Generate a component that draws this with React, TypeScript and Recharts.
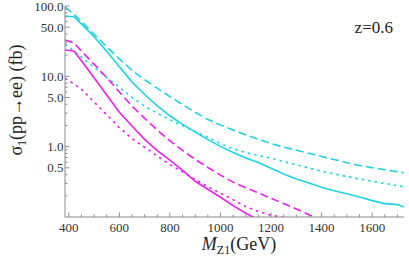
import { LineChart, Line, XAxis, YAxis } from "recharts";

// M_Z1 in GeV
const masses = [385, 420, 450, 500, 550, 600, 650, 700, 750, 800, 850, 900, 950, 1000, 1050, 1100, 1150, 1200, 1250, 1300, 1350, 1400, 1450, 1500, 1550, 1600, 1650, 1700, 1725];

// sigma_1 (fb)
const cyanSolid = [72, 70.5, 55.7, 36.6, 22.7, 13.7, 8.34, 5.52, 3.81, 2.75, 2.07, 1.62, 1.26, 1.01, 0.828, 0.689, 0.594, 0.493, 0.408, 0.347, 0.305, 0.265, 0.236, 0.214, 0.192, 0.171, 0.155, 0.15, 0.139];
const cyanDashed = [97, 76.1, 60.4, 39.6, 26.4, 17.7, 12.2, 8.93, 6.78, 5.16, 3.97, 3.09, 2.44, 2.03, 1.73, 1.47, 1.275, 1.11, 0.986, 0.892, 0.805, 0.726, 0.656, 0.592, 0.54, 0.503, 0.47, 0.438, 0.426];
const cyanDotted = [28.6, 22.9, 18.8, 13.5, 9.7, 7.03, 5.02, 3.76, 2.98, 2.41, 1.99, 1.64, 1.36, 1.11, 0.933, 0.826, 0.752, 0.684, 0.616, 0.555, 0.497, 0.448, 0.409, 0.377, 0.348, 0.323, 0.3, 0.279, 0.269];
const magentaSolid = [23.7, 22.9, 16.6, 9.53, 5.43, 3.08, 1.97, 1.27, 0.877, 0.643, 0.46, 0.322, 0.248, 0.191, 0.145, 0.113, 0.091, 0.076, null, null, null, null, null, null, null, null, null, null, null];
const magentaDashed = [32.8, 29.9, 22.9, 14.9, 9.58, 5.99, 3.78, 2.53, 1.72, 1.21, 0.883, 0.658, 0.506, 0.394, 0.313, 0.261, 0.22, 0.184, 0.155, 0.13, 0.108, 0.089, null, null, null, null, null, null, null];
const magentaDotted = [9.38, 7.8, 6.56, 4.32, 2.84, 1.87, 1.3, 0.981, 0.735, 0.557, 0.438, 0.344, 0.27, 0.218, 0.176, 0.14, 0.12, 0.106, 0.098, 0.088, null, null, null, null, null, null, null, null, null];

const xTicks = [400, 450, 500, 550, 600, 650, 700, 750, 800, 850, 900, 950, 1000, 1050, 1100, 1150, 1200, 1250, 1300, 1350, 1400, 1450, 1500, 1550, 1600, 1650, 1700];
const xLabels = [400, 600, 800, 1000, 1200, 1400, 1600];
const yTicks = [0.2, 0.3, 0.4, 0.5, 0.6, 0.7, 0.8, 0.9, 1, 2, 3, 4, 5, 6, 7, 8, 9, 10, 20, 30, 40, 50, 60, 70, 80, 90, 100];
const yLabels = [0.5, 1, 5, 10, 50, 100];

const rows = masses.map((m, i) => ({
  m,
  cs: cyanSolid[i],
  cd: cyanDashed[i],
  ct: cyanDotted[i],
  ms: magentaSolid[i],
  md: magentaDashed[i],
  mt: magentaDotted[i],
}));

const CYAN = "#1ed4e2";
const MAGENTA = "#f01ef0";
const FRAME = "#8a8a8a";
const FONT = "Liberation Serif, DejaVu Serif, Times New Roman, serif";
const txt = { fontFamily: FONT };

const BottomTick = (props: any) => {
  const { x, y, payload } = props;
  const big = xLabels.includes(payload.value);
  return (
    <g>
      <line x1={x} y1={y} x2={x} y2={y - (big ? 4.5 : 2.5)} stroke={FRAME} />
      {big && (
        <text x={x} y={y + 14.5} textAnchor="middle" fontSize={13} style={txt} fill="#333">
          {payload.value}
        </text>
      )}
    </g>
  );
};

const TopTick = (props: any) => {
  const { x, y, payload } = props;
  const big = xLabels.includes(payload.value);
  return <line x1={x} y1={y} x2={x} y2={y + (big ? 4.5 : 2.5)} stroke={FRAME} />;
};

const LeftTick = (props: any) => {
  const { x, y, payload } = props;
  const big = yLabels.includes(payload.value);
  return (
    <g>
      <line x1={x} y1={y} x2={x + (big ? 4.5 : 2.5)} y2={y} stroke={FRAME} />
      {big && (
        <text x={x - 1.5} y={y + 4.5} textAnchor="end" fontSize={13} style={txt} fill="#333">
          {payload.value.toFixed(1)}
        </text>
      )}
    </g>
  );
};

const RightTick = (props: any) => {
  const { x, y, payload } = props;
  const big = yLabels.includes(payload.value);
  return <line x1={x} y1={y} x2={x - (big ? 4.5 : 2.5)} y2={y} stroke={FRAME} />;
};

export default function App() {
  return (
    <div style={{ position: "absolute", left: 0, top: 0, width: 409, height: 263, background: "#fff" }}>
      <LineChart width={409} height={263} data={rows} margin={{ top: 6, right: 5, bottom: 0, left: 0 }}>
        <XAxis
          dataKey="m"
          type="number"
          domain={[385, 1726]}
          allowDataOverflow
          ticks={xTicks}
          interval={0}
          tick={<BottomTick />}
          tickSize={0}
          tickMargin={0}
          tickLine={false}
          axisLine={{ stroke: FRAME }}
          height={46}
        />
        <XAxis
          xAxisId="top"
          orientation="top"
          dataKey="m"
          type="number"
          domain={[385, 1726]}
          allowDataOverflow
          ticks={xTicks}
          interval={0}
          tick={<TopTick />}
          tickSize={0}
          tickMargin={0}
          tickLine={false}
          axisLine={{ stroke: FRAME }}
          height={0}
        />
        <YAxis
          type="number"
          scale="log"
          domain={[0.1, 100]}
          allowDataOverflow
          ticks={yTicks}
          interval={0}
          tick={<LeftTick />}
          tickSize={0}
          tickMargin={0}
          tickLine={false}
          axisLine={{ stroke: FRAME }}
          width={65}
        />
        <YAxis
          yAxisId="right"
          orientation="right"
          type="number"
          scale="log"
          domain={[0.1, 100]}
          allowDataOverflow
          ticks={yTicks}
          interval={0}
          tick={<RightTick />}
          tickSize={0}
          tickMargin={0}
          tickLine={false}
          axisLine={{ stroke: FRAME }}
          width={0}
        />
        <Line dataKey="cd" stroke={CYAN} strokeWidth={1.6} strokeDasharray="8 4" dot={false} isAnimationActive={false} />
        <Line dataKey="ct" stroke={CYAN} strokeWidth={1.6} strokeDasharray="2.5 4" dot={false} isAnimationActive={false} />
        <Line dataKey="cs" stroke={CYAN} strokeWidth={1.6} dot={false} isAnimationActive={false} />
        <Line dataKey="md" stroke={MAGENTA} strokeWidth={1.6} strokeDasharray="8 4" dot={false} isAnimationActive={false} />
        <Line dataKey="mt" stroke={MAGENTA} strokeWidth={1.6} strokeDasharray="2.5 4" dot={false} isAnimationActive={false} />
        <Line dataKey="ms" stroke={MAGENTA} strokeWidth={1.6} dot={false} isAnimationActive={false} />
      </LineChart>
      <svg width={409} height={263} style={{ position: "absolute", left: 0, top: 0, pointerEvents: "none" }}>
        <text x={393} y={33} textAnchor="end" fontSize={17} style={txt} fill="#222">
          z=0.6
        </text>
        <text x={239} y={249.5} textAnchor="middle" fontSize={18} style={txt} fill="#222">
          <tspan fontStyle="italic">M</tspan>
          <tspan fontSize={12} dy={4}>Z1</tspan>
          <tspan dy={-4}>(GeV)</tspan>
        </text>
        <text transform="translate(22,100) rotate(-90)" textAnchor="middle" fontSize={18} style={txt} fill="#222">
          <tspan>σ</tspan>
          <tspan fontSize={12} dy={4}>1</tspan>
          <tspan dy={-4}>(pp→ee) (fb)</tspan>
        </text>
      </svg>
    </div>
  );
}
